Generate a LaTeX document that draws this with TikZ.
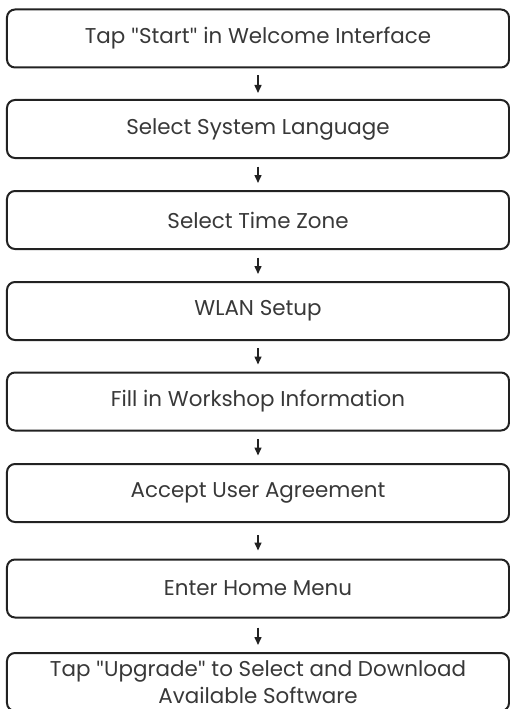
\documentclass[tikz,border=0pt]{standalone}
\usepackage{fontspec}
\setmainfont{Poppins}
\newfontfamily\qfont{Lato}
\newcommand{\dq}{{\qfont"}}
\usetikzlibrary{arrows.meta}
\definecolor{txt}{HTML}{383838}
\definecolor{edge}{HTML}{222222}
\begin{document}
\begin{tikzpicture}[x=1bp,y=-1bp,
  stepbox/.style={draw=edge, line width=2bp, rounded corners=8bp,
    minimum width=502bp, minimum height=58bp, inner sep=0pt,
    text=txt, font=\fontsize{21.5}{27}\selectfont, align=center},
  arr/.style={draw=edge, line width=1.5bp, -{Triangle[length=8bp,width=7bp]}}]
\useasboundingbox (0,0) rectangle (510,709);
\node[stepbox] (b1) at (258,38.5) {Tap \dq Start\dq{} in Welcome Interface};
\node[stepbox] (b2) at (258,129) {Select System Language};
\node[stepbox] (b3) at (258,220) {Select Time Zone};
\node[stepbox] (b4) at (258,311) {WLAN Setup};
\node[stepbox] (b5) at (258,401.5) {Fill in Workshop Information};
\node[stepbox] (b6) at (258,493) {Accept User Agreement};
\node[stepbox] (b7) at (258,588.5) {Enter Home Menu};
\node[stepbox] (b8) at (258,682) {Tap \dq Upgrade\dq{} to Select and Download\\Available Software};
\draw[arr, shorten <=7bp, shorten >=6bp] (b1) -- (b2);
\draw[arr, shorten <=7.5bp, shorten >=7bp] (b2) -- (b3);
\draw[arr, shorten <=7.5bp, shorten >=7bp] (b3) -- (b4);
\draw[arr, shorten <=7bp, shorten >=7bp] (b4) -- (b5);
\draw[arr, shorten <=7.5bp, shorten >=7.5bp] (b5) -- (b6);
\draw[arr, shorten <=12bp, shorten >=8bp] (b6) -- (b7);
\draw[arr, shorten <=9bp, shorten >=7bp] (b7) -- (b8);
\end{tikzpicture}
\end{document}
